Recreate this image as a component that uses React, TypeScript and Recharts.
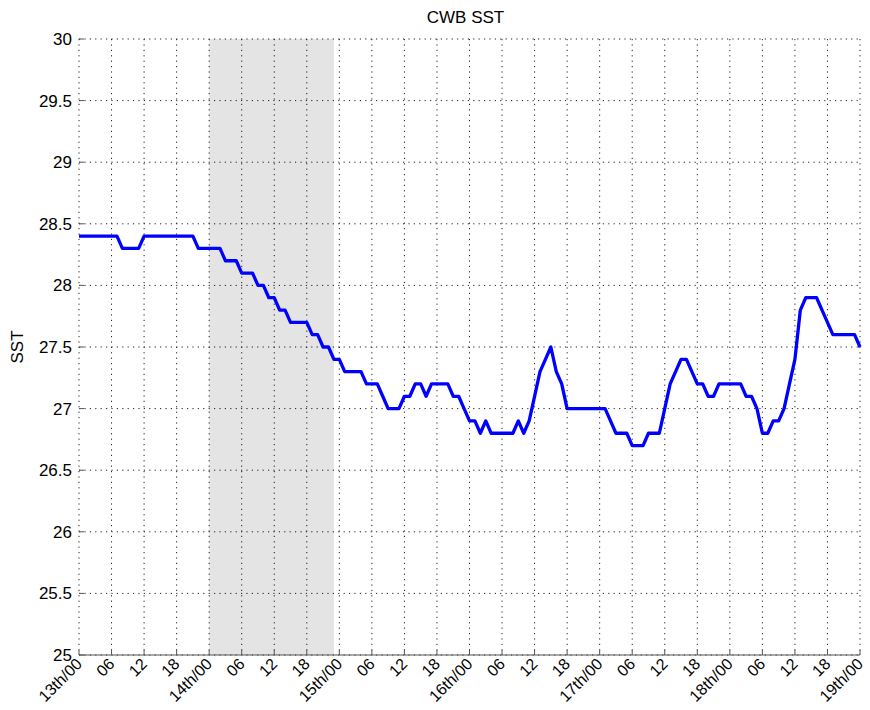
import React from 'react';
import { LineChart, Line, XAxis, YAxis, CartesianGrid, ReferenceArea } from 'recharts';

// Hourly SST, starting 13th 00h
const sst: number[] = [
  // 13th
  28.4, 28.4, 28.4, 28.4, 28.4, 28.4, 28.4, 28.4, 28.3, 28.3, 28.3, 28.3,
  28.4, 28.4, 28.4, 28.4, 28.4, 28.4, 28.4, 28.4, 28.4, 28.4, 28.3, 28.3,
  // 14th
  28.3, 28.3, 28.3, 28.2, 28.2, 28.2, 28.1, 28.1, 28.1, 28.0, 28.0, 27.9,
  27.9, 27.8, 27.8, 27.7, 27.7, 27.7, 27.7, 27.6, 27.6, 27.5, 27.5, 27.4,
  // 15th
  27.4, 27.3, 27.3, 27.3, 27.3, 27.2, 27.2, 27.2, 27.1, 27.0, 27.0, 27.0,
  27.1, 27.1, 27.2, 27.2, 27.1, 27.2, 27.2, 27.2, 27.2, 27.1, 27.1, 27.0,
  // 16th
  26.9, 26.9, 26.8, 26.9, 26.8, 26.8, 26.8, 26.8, 26.8, 26.9, 26.8, 26.9,
  27.1, 27.3, 27.4, 27.5, 27.3, 27.2, 27.0, 27.0, 27.0, 27.0, 27.0, 27.0,
  // 17th
  27.0, 27.0, 26.9, 26.8, 26.8, 26.8, 26.7, 26.7, 26.7, 26.8, 26.8, 26.8,
  27.0, 27.2, 27.3, 27.4, 27.4, 27.3, 27.2, 27.2, 27.1, 27.1, 27.2, 27.2,
  // 18th
  27.2, 27.2, 27.2, 27.1, 27.1, 27.0, 26.8, 26.8, 26.9, 26.9, 27.0, 27.2,
  27.4, 27.8, 27.9, 27.9, 27.9, 27.8, 27.7, 27.6, 27.6, 27.6, 27.6, 27.6,
  // 19th 00
  27.5,
];

const xTicks = [0, 6, 12, 18, 24, 30, 36, 42, 48, 54, 60, 66, 72, 78, 84, 90, 96, 102, 108, 114, 120, 126, 132, 138, 144];
const yTicks = [25, 25.5, 26, 26.5, 27, 27.5, 28, 28.5, 29, 29.5, 30];
const startDay = 13;
const shadeStart = 24;
const shadeEnd = 47;
const title = 'CWB SST';
const yLabel = 'SST';

const data = sst.map((v, i) => ({ hour: i, sst: v }));

const FONT = 'Arial, "Liberation Sans", Helvetica, sans-serif';

const fmtX = (v: number) => {
  const h = v % 24;
  if (h === 0) return `${startDay + v / 24}th/00`;
  return h < 10 ? `0${h}` : `${h}`;
};

const XTick = (props: any) => {
  const { x, y, payload } = props;
  const tx = x + 4;
  const ty = y + 10;
  return (
    <g>
      <line x1={x} y1={y} x2={x} y2={y - 5} stroke="#555" strokeWidth={1} />
      <text
        x={tx}
        y={ty}
        transform={`rotate(-45, ${tx}, ${ty})`}
        textAnchor="end"
        fontSize={16}
        fontFamily={FONT}
        fill="#000"
      >
        {fmtX(payload.value)}
      </text>
    </g>
  );
};

const YTick = (props: any) => {
  const { x, y, payload } = props;
  return (
    <g>
      <line x1={x} y1={y} x2={x + 5} y2={y} stroke="#555" strokeWidth={1} />
      <text x={x - 7} y={y + 6} textAnchor="end" fontSize={17} fontFamily={FONT} fill="#000">
        {String(payload.value)}
      </text>
    </g>
  );
};

export default function App() {
  return (
    <div style={{ position: 'absolute', left: 0, top: 0, width: 870, height: 710, background: '#fff' }}>
      <LineChart width={870} height={710} data={data} margin={{ top: 39, right: 10, bottom: 0, left: 0 }}>
        <ReferenceArea x1={shadeStart} x2={shadeEnd} y1={25} y2={30} fill="#000" fillOpacity={0.105} stroke="none" />
        <CartesianGrid stroke="#222" strokeDasharray="1.2 4.2" strokeWidth={1} />
        <XAxis
          dataKey="hour"
          type="number"
          domain={[0, 144]}
          ticks={xTicks}
          interval={0}
          height={55}
          tickSize={0}
          tickMargin={0}
          tickLine={false}
          axisLine={{ stroke: '#555', strokeWidth: 1 }}
          tick={<XTick />}
        />
        <YAxis
          type="number"
          domain={[25, 30]}
          ticks={yTicks}
          interval={0}
          width={79}
          tickSize={0}
          tickMargin={0}
          tickLine={false}
          axisLine={false}
          tick={<YTick />}
        />
        <Line
          type="linear"
          dataKey="sst"
          stroke="#0000ff"
          strokeWidth={3.3}
          strokeLinejoin="round"
          dot={false}
          isAnimationActive={false}
        />
      </LineChart>
      <div
        style={{
          position: 'absolute',
          left: 75,
          width: 781,
          top: 8,
          textAlign: 'center',
          fontFamily: FONT,
          fontSize: 17,
          color: '#000',
        }}
      >
        {title}
      </div>
      <div
        style={{
          position: 'absolute',
          left: 18,
          top: 347,
          transform: 'translate(-50%, -50%) rotate(-90deg)',
          fontFamily: FONT,
          fontSize: 17,
          color: '#000',
          whiteSpace: 'nowrap',
        }}
      >
        {yLabel}
      </div>
    </div>
  );
}
